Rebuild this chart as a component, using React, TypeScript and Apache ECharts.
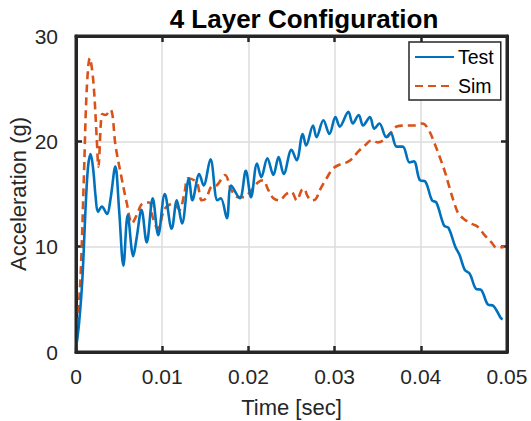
import React, { useEffect, useRef } from "react";
import * as echarts from "echarts";

const titleText = "4 Layer Configuration";
const xAxisName = "Time [sec]";
const yAxisName = "Acceleration (g)";
const seriesNames = ["Test", "Sim"];

const testTime = [
  0, 0.00035, 0.00073, 0.00112, 0.0014, 0.0017, 0.002, 0.00228, 0.00255, 0.003, 0.0036, 0.004,
  0.00456, 0.005, 0.0055, 0.006, 0.00664, 0.00703, 0.0076, 0.0082, 0.0089, 0.00954, 0.0103,
  0.0111, 0.0117, 0.0123, 0.0131, 0.0135, 0.0143, 0.0148, 0.0156, 0.0164, 0.0168, 0.0175,
  0.018, 0.019, 0.0197, 0.0203, 0.021, 0.0215, 0.0222, 0.0229, 0.0235, 0.0241, 0.025, 0.0256,
  0.0263, 0.0267, 0.0275, 0.0279, 0.0287, 0.0294, 0.0301, 0.0306, 0.0316, 0.0321, 0.0328,
  0.0333, 0.0341, 0.0346, 0.0352, 0.036, 0.0365, 0.0372, 0.0379, 0.0387, 0.0392, 0.0399,
  0.0405, 0.0413, 0.0418, 0.0427, 0.0432, 0.044, 0.0445, 0.0451, 0.0457, 0.0464, 0.047,
  0.0478, 0.0484, 0.0493, 0.0495,
];
const testAccel = [
  0.3, 2.7, 6.8, 13.8, 17.6, 18.8, 17.3, 14.7, 13.3, 13.8, 13.1, 14.5,
  17.6, 13.5, 8.2, 13.0, 9.1, 10.8, 13.5, 10.4, 14.6, 11.1, 15.0,
  11.7, 14.4, 12.2, 16.5, 14.4, 16.9, 15.8, 18.3, 14.4, 14.6, 12.7,
  15.8, 14.6, 17.2, 14.7, 17.9, 16.6, 18.4, 16.8, 18.5, 16.9, 19.2, 18.2,
  20.7, 19.6, 21.5, 20.4, 22.0, 20.7, 22.3, 21.4, 22.8, 21.7, 22.5,
  21.5, 22.3, 21.2, 21.7, 20.4, 20.8, 19.5, 19.5, 18.0, 18.1, 16.3,
  16.2, 14.4, 14.2, 12.0, 11.8, 10.0, 9.2, 7.8, 7.4, 6.0, 5.9,
  4.5, 4.4, 3.2, 3.1,
];

const simTime = [
  0, 0.00015, 0.00054, 0.00093, 0.00124, 0.0016, 0.002, 0.0024, 0.0026, 0.00305, 0.0034, 0.004,
  0.0046, 0.0052, 0.0059, 0.0065, 0.0071, 0.0077, 0.0085, 0.0089, 0.0095, 0.0103, 0.0113,
  0.012, 0.0126, 0.013, 0.014, 0.0146, 0.0151, 0.0157, 0.0163, 0.0173, 0.018, 0.0188, 0.0194,
  0.0202, 0.0211, 0.0217, 0.0223, 0.0229, 0.0236, 0.0244, 0.025, 0.0256, 0.0262, 0.0265,
  0.0268, 0.0273, 0.0278, 0.0283, 0.029, 0.0298, 0.0306, 0.0314, 0.0321, 0.0327, 0.0335,
  0.0343, 0.035, 0.036, 0.0366, 0.0372, 0.0383, 0.0391, 0.0402, 0.0409, 0.0416, 0.0422,
  0.0428, 0.0433, 0.0439, 0.0444, 0.0452, 0.0458, 0.0466, 0.0474, 0.0482, 0.0488, 0.0497,
];
const simAccel = [
  0, 2.0, 7.4, 17.0, 24.8, 27.9, 25.8, 20.4, 17.6, 22.6, 22.5, 23.0,
  19.5, 16.9, 14.1, 12.2, 13.1, 14.1, 14.2, 12.8, 11.7, 13.6, 14.1,
  13.5, 15.2, 16.5, 16.1, 14.4, 14.6, 15.7, 15.8, 16.8, 15.4, 14.7, 14.7,
  15.2, 16.1, 16.3, 15.4, 14.6, 14.4, 15.0, 15.2, 14.4, 15.4, 15.5,
  14.9, 14.4, 14.5, 15.4, 16.4, 17.4, 17.8, 18.0, 18.4, 19.0, 19.6,
  20.1, 19.9, 20.3, 20.9, 21.4, 21.5, 21.5, 21.7, 21.1, 19.8, 18.5,
  17.1, 15.7, 14.1, 13.1, 12.5, 12.2, 11.9, 11.1, 10.4, 9.9, 10.0,
];

const xTicks = { min: 0, max: 0.05, interval: 0.01 };
const yTicks = { min: 0, max: 30, interval: 10 };

const FONT = "'Liberation Sans', Arial, Helvetica, sans-serif";
const AXIS_COLOR = "#262626";

export default function App() {
  const ref = useRef<HTMLDivElement>(null);

  useEffect(() => {
    document.body.style.margin = "0";
    if (!ref.current) return;
    const chart = echarts.init(ref.current, undefined, { renderer: "svg" });

    const zip = (t: number[], v: number[]) => t.map((x, i) => [x, v[i]]);

    const mkLine = () => ({ show: true, onZero: false, lineStyle: { color: AXIS_COLOR, width: 3 } });
    const mkTick = () => ({ show: true, inside: true, length: 6, lineStyle: { color: AXIS_COLOR, width: 2.5 } });
    const mkSplit = () => ({
      show: true,
      showMinLine: false,
      showMaxLine: false,
      lineStyle: { color: "#dcdcdc", width: 1.5 },
    });

    chart.setOption({
      animation: false,
      textStyle: { fontFamily: FONT },
      title: {
        text: titleText,
        left: 299,
        top: 1,
        textAlign: "center",
        textStyle: { fontFamily: FONT, fontSize: 26, fontWeight: "bold", color: "#000" },
      },
      grid: {
        left: 76,
        right: 24,
        top: 36,
        bottom: 69,
        containLabel: false,
        outerBoundsMode: "none",
      },
      legend: {
        data: seriesNames,
        orient: "vertical",
        left: 409,
        top: 42,
        padding: [5, 7, 4, 5],
        itemGap: 9,
        itemWidth: 39,
        itemHeight: 14,
        itemStyle: { opacity: 0 },
        borderColor: AXIS_COLOR,
        borderWidth: 1.5,
        backgroundColor: "#fff",
        z: 10,
        textStyle: { fontFamily: FONT, fontSize: 19.5, color: "#000", padding: [0, 0, 0, -1] },
      },
      xAxis: [
        {
          type: "value",
          ...xTicks,
          name: xAxisName,
          nameLocation: "middle",
          nameGap: 44,
          nameMoveOverlap: false,
          nameTextStyle: { fontFamily: FONT, fontSize: 22, color: AXIS_COLOR },
          axisLine: mkLine(),
          axisTick: mkTick(),
          axisLabel: {
            fontFamily: FONT,
            fontSize: 21,
            color: AXIS_COLOR,
            margin: 14,
            formatter: (v: number) => String(Number(v.toFixed(3))),
          },
          splitLine: mkSplit(),
        },
        {
          type: "value",
          position: "top",
          ...xTicks,
          axisLine: mkLine(),
          axisTick: mkTick(),
          axisLabel: { show: false },
          splitLine: { show: false },
        },
      ],
      yAxis: [
        {
          type: "value",
          ...yTicks,
          name: yAxisName,
          nameLocation: "middle",
          nameGap: 47,
          nameMoveOverlap: false,
          nameTextStyle: { fontFamily: FONT, fontSize: 22, color: AXIS_COLOR },
          axisLine: mkLine(),
          axisTick: mkTick(),
          axisLabel: { fontFamily: FONT, fontSize: 21, color: AXIS_COLOR, margin: 18 },
          splitLine: mkSplit(),
        },
        {
          type: "value",
          position: "right",
          ...yTicks,
          axisLine: mkLine(),
          axisTick: mkTick(),
          axisLabel: { show: false },
          splitLine: { show: false },
        },
      ],
      series: [
        {
          name: seriesNames[0],
          type: "line",
          data: zip(testTime, testAccel),
          smooth: 0.35,
          symbol: "none",
          lineStyle: { color: "#0072BD", width: 2.6 },
          itemStyle: { color: "#0072BD" },
          z: 3,
        },
        {
          name: seriesNames[1],
          type: "line",
          data: zip(simTime, simAccel),
          smooth: 0.35,
          symbol: "none",
          lineStyle: { color: "#D95319", width: 2.6, type: [8, 5] },
          itemStyle: { color: "#D95319" },
          z: 2,
        },
      ],
    });

    const p0 = chart.convertToPixel({ gridIndex: 0 }, [xTicks.min, yTicks.min]) as number[];
    const p1 = chart.convertToPixel({ gridIndex: 0 }, [xTicks.max, yTicks.max]) as number[];
    if (p0 && p1) {
      chart.setOption({
        graphic: [
          {
            type: "rect",
            z: 100,
            silent: true,
            shape: { x: p0[0], y: p1[1], width: p1[0] - p0[0], height: p0[1] - p1[1] },
            style: { fill: "none", stroke: AXIS_COLOR, lineWidth: 3 },
          },
        ],
      });
    }

    return () => chart.dispose();
  }, []);

  return <div ref={ref} style={{ width: 531, height: 421 }} />;
}
